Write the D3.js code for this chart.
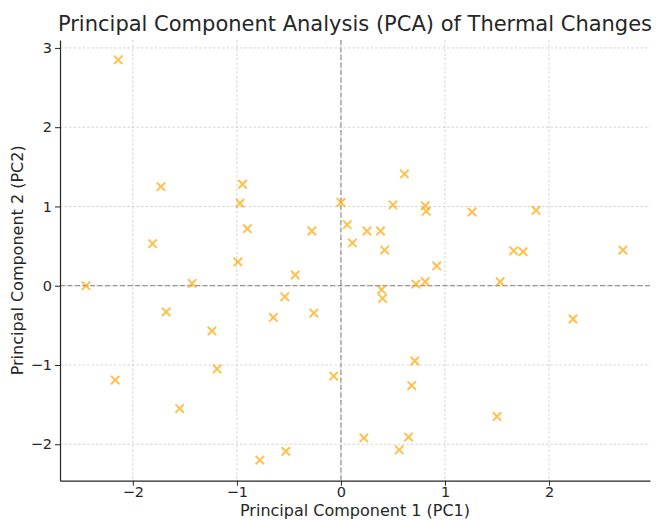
<!DOCTYPE html>
<html>
<head>
<meta charset="utf-8">
<script src="https://cdn.jsdelivr.net/npm/d3@7"></script>
<style>
  body { margin: 0; background: #fff; }
  text { font-family: "DejaVu Sans", sans-serif; fill: #262626; }
</style>
</head>
<body>
<div id="chart"></div>
<script>
var pc1 = [-2.14, -1.73, -1.81, -2.45, -2.17, -1.68, -1.43, -1.24, -1.19, -1.55,
  -0.945, -0.97, -0.90, -0.99, -0.44, -0.54, -0.65, -0.26, -0.28, -0.78,
  -0.53, -0.07, 0.0, 0.06, 0.11, 0.25, 0.38, 0.42, 0.50, 0.61,
  0.81, 0.82, 0.92, 0.72, 0.81, 0.39, 0.40, 0.71, 0.68, 0.22,
  0.65, 0.56, 1.26, 1.875, 1.66, 1.75, 1.53, 1.50, 2.23, 2.71];
var pc2 = [2.85, 1.25, 0.53, 0.00, -1.19, -0.33, 0.03, -0.57, -1.05, -1.55,
  1.28, 1.04, 0.72, 0.30, 0.135, -0.14, -0.40, -0.345, 0.69, -2.20,
  -2.09, -1.14, 1.05, 0.77, 0.54, 0.69, 0.69, 0.45, 1.02, 1.41,
  1.01, 0.94, 0.25, 0.02, 0.05, -0.05, -0.16, -0.95, -1.26, -1.92,
  -1.91, -2.07, 0.93, 0.95, 0.44, 0.43, 0.05, -1.65, -0.42, 0.45];
var xTicks = [-2, -1, 0, 1, 2];
var yTicks = [-2, -1, 0, 1, 2, 3];

var width = 658;
var height = 520;
var margin = { top: 40, right: 8, bottom: 39.3, left: 60 };

var svg = d3.select("#chart")
  .append("svg")
  .attr("width", width)
  .attr("height", height);

var x = d3.scaleLinear()
  .domain([-2.70, 2.97])
  .range([margin.left, width - margin.right]);

var y = d3.scaleLinear()
  .domain([-2.46, 3.10])
  .range([height - margin.bottom, margin.top]);

// grid
svg.append("g")
  .selectAll("line")
  .data(xTicks)
  .enter()
  .append("line")
  .attr("x1", d => x(d)).attr("x2", d => x(d))
  .attr("y1", margin.top).attr("y2", height - margin.bottom)
  .attr("stroke", "#c8c8c8")
  .attr("stroke-width", 0.8)
  .attr("stroke-dasharray", "2.5,2");

svg.append("g")
  .selectAll("line")
  .data(yTicks)
  .enter()
  .append("line")
  .attr("x1", margin.left).attr("x2", width - margin.right)
  .attr("y1", d => y(d)).attr("y2", d => y(d))
  .attr("stroke", "#c8c8c8")
  .attr("stroke-width", 0.8)
  .attr("stroke-dasharray", "2.5,2");

// zero lines
svg.append("line")
  .attr("x1", margin.left).attr("x2", width - margin.right)
  .attr("y1", y(0)).attr("y2", y(0))
  .attr("stroke", "#808080")
  .attr("stroke-width", 1)
  .attr("stroke-dasharray", "5,2.5");

svg.append("line")
  .attr("x1", x(0)).attr("x2", x(0))
  .attr("y1", margin.top).attr("y2", height - margin.bottom)
  .attr("stroke", "#808080")
  .attr("stroke-width", 1)
  .attr("stroke-dasharray", "5,2.5");

// axes
var fmt = d3.format("d");
var xAxis = svg.append("g")
  .attr("transform", "translate(0," + (height - margin.bottom) + ")")
  .call(d3.axisBottom(x).tickValues(xTicks).tickFormat(fmt).tickSize(5).tickPadding(1).tickSizeOuter(0));

var yAxis = svg.append("g")
  .attr("transform", "translate(" + margin.left + ",0)")
  .call(d3.axisLeft(y).tickValues(yTicks).tickFormat(fmt).tickSize(5).tickPadding(3).tickSizeOuter(0));

[xAxis, yAxis].forEach(function (a) {
  a.select(".domain").attr("stroke", "#262626").attr("stroke-width", 1.2);
  a.selectAll(".tick line").attr("stroke", "#262626").attr("stroke-width", 1);
  a.selectAll(".tick text")
    .style("font-family", "DejaVu Sans")
    .style("font-size", "14.5px")
    .attr("fill", "#262626");
});

// points (x markers)
var s = 4.2;
svg.append("g")
  .selectAll("path")
  .data(pc1.map((d, i) => [d, pc2[i]]))
  .enter()
  .append("path")
  .attr("d", d => {
    var cx = x(d[0]), cy = y(d[1]);
    return "M" + (cx - s) + "," + (cy - s) + "L" + (cx + s) + "," + (cy + s) +
      "M" + (cx - s) + "," + (cy + s) + "L" + (cx + s) + "," + (cy - s);
  })
  .attr("stroke", "#ffa500")
  .attr("stroke-opacity", 0.7)
  .attr("stroke-width", 2)
  .attr("fill", "none");

// title and labels
svg.append("text")
  .attr("x", (margin.left + width - margin.right) / 2)
  .attr("y", 31)
  .attr("text-anchor", "middle")
  .style("font-size", "21px")
  .text("Principal Component Analysis (PCA) of Thermal Changes");

svg.append("text")
  .attr("x", (margin.left + width - margin.right) / 2)
  .attr("y", 516)
  .attr("text-anchor", "middle")
  .style("font-size", "16px")
  .text("Principal Component 1 (PC1)");

svg.append("text")
  .attr("transform", "translate(23," + ((margin.top + height - margin.bottom) / 2) + ") rotate(-90)")
  .attr("text-anchor", "middle")
  .style("font-size", "16px")
  .text("Principal Component 2 (PC2)");
</script>
</body>
</html>
